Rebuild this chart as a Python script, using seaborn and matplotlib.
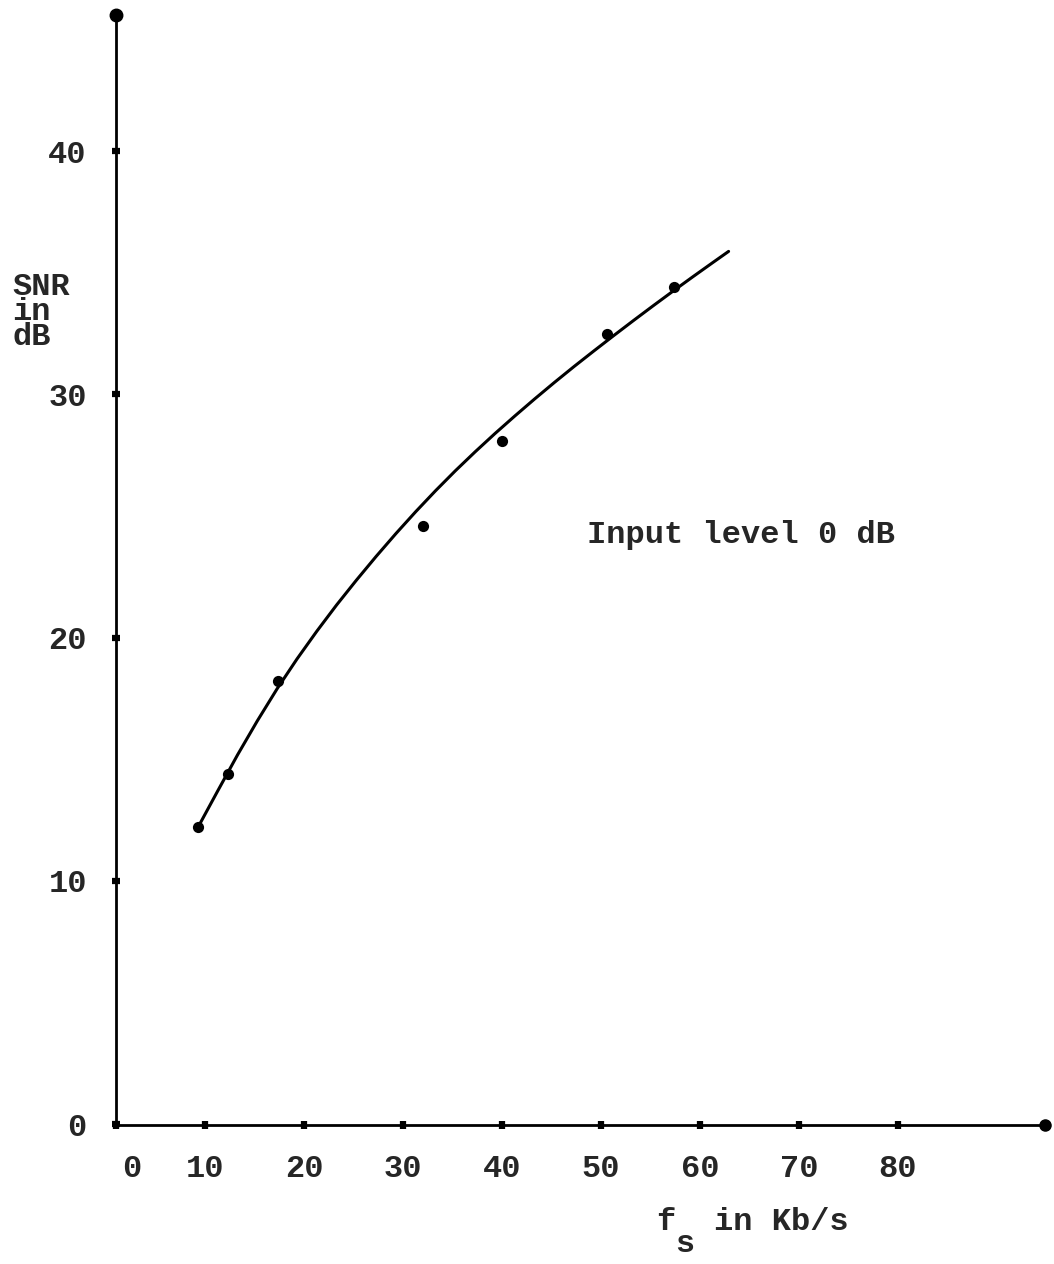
import matplotlib
matplotlib.use("Agg")
import matplotlib.pyplot as plt
from matplotlib.transforms import ScaledTranslation
import seaborn as sns
import pandas as pd

# measured points (sampling rate in Kb/s, SNR in dB)
point_fs = [9.3, 12.3, 17.4, 32.0, 40.0, 50.6, 57.4]
point_snr = [12.2, 14.4, 18.2, 24.6, 28.1, 32.5, 34.4]

# hand-drawn fitted curve
curve_fs = [9.3, 11.3, 13.3, 15.3, 17.3, 19.3, 21.3, 23.3, 25.3, 27.3, 29.3, 31.3, 33.3, 35.3,
            37.3, 39.3, 41.3, 43.3, 45.3, 47.3, 49.3, 51.3, 53.3, 55.3, 57.3, 59.3, 61.3, 62.9]
curve_snr = [12.2, 13.7, 15.18, 16.58, 17.9, 19.12, 20.26, 21.34, 22.36, 23.34, 24.28, 25.18,
             26.04, 26.86, 27.64, 28.39, 29.11, 29.81, 30.49, 31.15, 31.79, 32.42, 33.04,
             33.65, 34.25, 34.84, 35.42, 35.88]

x_ticks = [10, 20, 30, 40, 50, 60, 70, 80]
x_tick_labels = ["10", "20", "30", "40", "50", "60", "70", "80"]
x_origin_label = "0"
y_ticks = [0, 10, 20, 30, 40]
y_tick_labels = ["0", "10", "20", "30", "40"]

annotation = "Input level 0 dB"
y_title = "SNR\nin\ndB"

sns.set_theme(style="white")
plt.rcParams["font.family"] = ["Liberation Mono", "DejaVu Sans"]
plt.rcParams["font.weight"] = "bold"
FS = 23

fig = plt.figure(figsize=(10.54, 12.64), dpi=100)
ax = fig.add_axes([116 / 1054, 1 - 1125 / 1264, (1045 - 116) / 1054, (1125 - 15) / 1264])

curve_df = pd.DataFrame({"fs": curve_fs, "snr": curve_snr})
pts_df = pd.DataFrame({"fs": point_fs, "snr": point_snr})
sns.lineplot(data=curve_df, x="fs", y="snr", ax=ax, color="black", linewidth=2.2,
             sort=False, estimator=None)
sns.scatterplot(data=pts_df, x="fs", y="snr", ax=ax, color="black", s=65,
                edgecolor="black", linewidth=0, zorder=3)

ax.set_xlim(1.02, 94.86)
ax.set_ylim(-0.04, 45.6)

for side in ["top", "right"]:
    ax.spines[side].set_visible(False)
for side in ["left", "bottom"]:
    ax.spines[side].set_color("black")
    ax.spines[side].set_linewidth(2.0)

x0 = ax.get_xlim()[0]
ax.set_xticks([x0] + x_ticks)
ax.set_xticklabels([x_origin_label] + x_tick_labels, fontsize=FS, fontweight="bold")
ax.set_yticks(y_ticks)
ax.set_yticklabels(y_tick_labels, fontsize=FS, fontweight="bold")
ax.tick_params(axis="x", bottom=True, direction="inout", length=6, width=4.5,
               color="black", pad=18)
ax.tick_params(axis="y", left=True, direction="inout", length=6, width=4.5,
               color="black", pad=18)
ax.set_xlabel("")
ax.set_ylabel("")

# shift the "0" x label to the right as in the original
lbl0 = ax.get_xticklabels()[0]
lbl0.set_transform(lbl0.get_transform() + ScaledTranslation(16 / 100, 0, fig.dpi_scale_trans))

# ink blobs at axis ends
ax.plot([0], [1], transform=ax.transAxes, marker="o", markersize=9, color="black", clip_on=False)
ax.plot([1], [0], transform=ax.transAxes, marker="o", markersize=8, color="black", clip_on=False)

ax.text(48.6, 24.2, annotation, fontsize=FS, fontweight="bold", ha="left", va="center")

fig.text(12 / 1054, 1 - 312 / 1264, y_title, fontsize=FS, fontweight="bold",
         ha="left", va="center", linespacing=0.8)

# x axis title: f with subscript s
char_w = 0.6 * FS * 100 / 72
fig.text(656 / 1054, 1 - 1222 / 1264, "f", fontsize=FS, fontweight="bold",
         ha="left", va="center")
fig.text((656 + char_w) / 1054, 1 - 1244 / 1264, "s", fontsize=FS,
         fontweight="bold", ha="left", va="center")
fig.text((656 + 3 * char_w) / 1054, 1 - 1222 / 1264, "in Kb/s", fontsize=FS,
         fontweight="bold", ha="left", va="center")

fig.savefig("out.png", dpi=100, facecolor="white")
